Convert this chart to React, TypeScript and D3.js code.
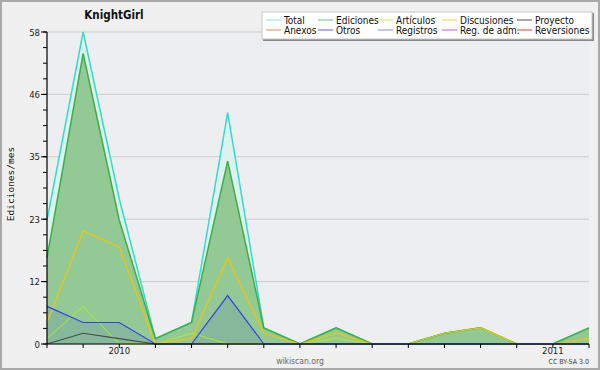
import React from "react";
import * as d3 from "d3";

const months = [
  "2009-11", "2009-12", "2010-01", "2010-02", "2010-03", "2010-04", "2010-05", "2010-06",
  "2010-07", "2010-08", "2010-09", "2010-10", "2010-11", "2010-12", "2011-01", "2011-02",
];
const total = [23, 58, 27, 1, 4, 43, 3, 0, 3, 0, 0, 2, 3, 0, 0, 3];
const ediciones = [16, 54, 23, 1, 4, 34, 3, 0, 3, 0, 0, 2, 3, 0, 0, 3];
const articulos = [1, 7, 0, 0, 2, 0, 0, 0, 1, 0, 0, 0, 0, 0, 0, 0];
const discusiones = [4, 21, 18, 0, 1, 16, 2, 0, 2, 0, 0, 2, 3, 0, 0, 1];
const proyecto = [0, 2, 1, 0, 0, 0, 0, 0, 0, 0, 0, 0, 0, 0, 0, 0];
const registros = [7, 4, 4, 0, 0, 9, 0, 0, 0, 0, 0, 0, 0, 0, 0, 0];

const yTickValues = [0, 11.6, 23.2, 34.8, 46.4, 58];
const yTickLabels = ["0", "12", "23", "35", "46", "58"];
const yearLabels = [
  { month: "2010-01", label: "2010" },
  { month: "2011-01", label: "2011" },
];

const legendItems = [
  { name: "Total", color: "#8fe6dc" },
  { name: "Ediciones", color: "#6cc274" },
  { name: "Artículos", color: "#c4f25a" },
  { name: "Discusiones", color: "#f3d04a" },
  { name: "Proyecto", color: "#555555" },
  { name: "Anexos", color: "#f08a50" },
  { name: "Otros", color: "#8a4fd8" },
  { name: "Registros", color: "#7f8ff5" },
  { name: "Reg. de adm.", color: "#c659e4" },
  { name: "Reversiones", color: "#e04040" },
];

const W = 600;
const H = 370;
const L = 47, R = 589, T = 32, B = 344;
const FONT = "'DejaVu Sans Condensed', 'DejaVu Sans', sans-serif";

export default function App() {
  const x = d3.scalePoint<string>().domain(months).range([L, R]);
  const y = d3.scaleLinear().domain([0, 58]).range([B, T]);

  const line = (vals: number[]) =>
    d3.line<number>().x((_, i) => x(months[i])!).y((v) => y(v))(vals) || "";
  const area = (vals: number[]) =>
    d3.area<number>().x((_, i) => x(months[i])!).y0(y(0)).y1((v) => y(v))(vals) || "";

  const minor = d3.range(0, 58.001, 58 / 20);

  const lines = [
    { vals: total, color: "#34dccb", w: 1.5 },
    { vals: ediciones, color: "#3cb043", w: 1.5 },
    { vals: articulos, color: "#adf020", w: 1 },
    { vals: discusiones, color: "#f2c500", w: 1.2 },
    { vals: proyecto, color: "#4a4a4a", w: 1.2 },
    { vals: registros, color: "#3340f0", w: 1.2 },
  ];

  const colX = [266, 318, 378, 442, 517];
  const rowY = [20, 30];

  return (
    <div style={{ position: "fixed", left: 0, top: 0 }}>
      <svg width={W} height={H} style={{ display: "block" }}>
        <rect x={0} y={0} width={W} height={H} fill="#f0f0f0" />
        <rect x={1} y={1} width={W - 2} height={H - 2} fill="none" stroke="#a9a9a9" strokeWidth={2} />
        <rect x={L} y={T - 4} width={R - L} height={B - T + 4} fill="#edeef0" />

        {yTickValues.map((v, i) => (
          <line key={"g" + i} x1={L} x2={R} y1={y(v)} y2={y(v)} stroke="#cccccc" strokeWidth={1} />
        ))}

        <path d={area(total)} fill="#dcf2ee" />
        <path d={area(ediciones)} fill="#93c994" />
        <path d={area(registros)} fill="#3a5bd0" fillOpacity={0.14} />

        {lines.map((s, i) => (
          <path key={"l" + i} d={line(s.vals)} fill="none" stroke={s.color} strokeWidth={s.w} strokeLinejoin="miter" />
        ))}

        {/* axes */}
        <line x1={L} x2={L} y1={T} y2={B} stroke="#000" strokeWidth={1.2} />
        <line x1={L} x2={R} y1={B} y2={B} stroke="#000" strokeWidth={1.2} />
        {minor.map((v, i) => (
          <line key={"m" + i} x1={L - 4} x2={L} y1={y(v)} y2={y(v)} stroke="#000" strokeWidth={1} />
        ))}
        {yTickValues.map((v, i) => (
          <g key={"yt" + i}>
            <line x1={L - 6} x2={L} y1={y(v)} y2={y(v)} stroke="#000" strokeWidth={1} />
            <text x={L - 7} y={y(v) + 3.5} textAnchor="end" fontFamily={FONT} fontSize={9.5} fill="#222">
              {yTickLabels[i]}
            </text>
          </g>
        ))}
        {months.map((m) => (
          <line key={"xt" + m} x1={x(m)} x2={x(m)} y1={B} y2={B + 4} stroke="#000" strokeWidth={1} />
        ))}
        {yearLabels.map((d) => (
          <text key={d.label} x={x(d.month)} y={354} textAnchor="middle" fontFamily={FONT} fontSize={9.5} fill="#222">
            {d.label}
          </text>
        ))}

        <text x={114} y={18.5} textAnchor="middle" fontFamily={FONT} fontWeight="bold" fontSize={11.5} fill="#111">
          KnightGirl
        </text>
        <text
          transform={`translate(14,184) rotate(-90)`}
          textAnchor="middle"
          fontFamily="'DejaVu Sans Mono', monospace"
          fontSize={9.5}
          fill="#111"
        >
          Ediciones/mes
        </text>
        <text x={300} y={364} textAnchor="middle" fontFamily={FONT} fontSize={8.5} fill="#666">
          wikiscan.org
        </text>
        <text x={589} y={364} textAnchor="end" fontFamily={FONT} fontSize={7} fill="#444">
          CC BY-SA 3.0
        </text>

        {/* legend */}
        <rect x={263} y={13} width={331} height={28} fill="#888" />
        <rect x={262} y={12} width={330} height={27} fill="#fff" stroke="#c8c8c8" strokeWidth={1} />
        {legendItems.map((it, i) => {
          const cx = colX[i % 5];
          const cy = rowY[Math.floor(i / 5)];
          return (
            <g key={it.name}>
              <line x1={cx} x2={cx + 15} y1={cy} y2={cy} stroke={it.color} strokeWidth={1} />
              <text x={cx + 18} y={cy + 3.5} fontFamily={FONT} fontSize={10} fill="#111">
                {it.name}
              </text>
            </g>
          );
        })}
      </svg>
    </div>
  );
}
